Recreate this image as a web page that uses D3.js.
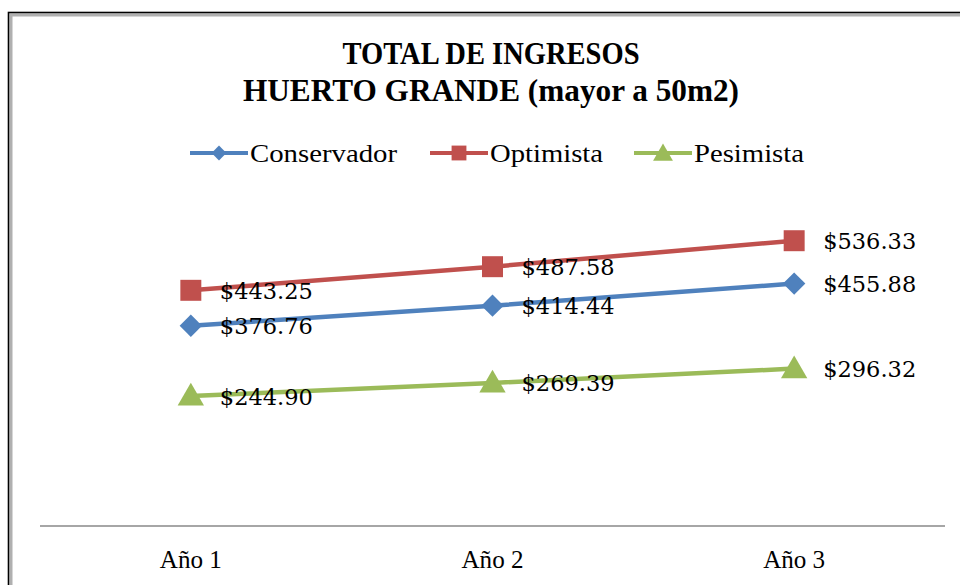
<!DOCTYPE html>
<html>
<head>
<meta charset="utf-8">
<script src="https://cdn.jsdelivr.net/npm/d3@7/dist/d3.min.js"></script>
<style>
  html, body { margin: 0; padding: 0; background: #fff; }
  svg { display: block; }
</style>
</head>
<body>
<svg id="chart" width="960" height="585"></svg>
<script>
// Chart data
const categories = ["Año 1", "Año 2", "Año 3"];
const seriesNames = ["Conservador", "Optimista", "Pesimista"];
const conservador = [376.76, 414.44, 455.88];
const optimista = [443.25, 487.58, 536.33];
const pesimista = [244.90, 269.39, 296.32];
const titleLines = ["TOTAL DE INGRESOS", "HUERTO GRANDE (mayor a 50m2)"];

const colors = { Conservador: "#4F81BD", Optimista: "#C0504D", Pesimista: "#9BBB59" };
// Diamond = square turned 45 degrees
const markerType = { Conservador: d3.symbolSquare, Optimista: d3.symbolSquare, Pesimista: d3.symbolTriangle };
const markerRot = { Conservador: 45, Optimista: 0, Pesimista: 0 };
const markerSize = { Conservador: 250, Optimista: 440, Pesimista: 300 };
const legendSize = { Conservador: 110, Optimista: 220, Pesimista: 170 };
const markerDy = { Conservador: 0, Optimista: 0, Pesimista: 2 };

const series = [
  { name: "Conservador", values: conservador },
  { name: "Optimista", values: optimista },
  { name: "Pesimista", values: pesimista }
];

const svg = d3.select("#chart");
const fmt = v => "$" + d3.format(",.2f")(v);

// Outer frame (runs past the right and bottom edges)
svg.append("rect").attr("x", 11).attr("y", 15).attr("width", 1000).attr("height", 700)
  .attr("fill", "none").attr("stroke", "#b0b0b0").attr("stroke-width", 3);
svg.append("rect").attr("x", 8.5).attr("y", 12.5).attr("width", 1000).attr("height", 700)
  .attr("fill", "none").attr("stroke", "#000").attr("stroke-width", 1.6);

// Scales
const x = d3.scaleBand().domain(categories).range([40, 945]);
const y = d3.scaleLinear().domain([0, 700]).range([526.5, 153.5]);
const cx = c => x(c) + x.bandwidth() / 2;

// Title
const titleG = svg.append("g").attr("font-family", "'Liberation Serif', 'DejaVu Serif', serif")
  .attr("font-weight", "bold").attr("font-size", 32).attr("fill", "#000");
const titleWidths = [297, 496];
titleLines.forEach((t, i) => {
  titleG.append("text").attr("x", 491).attr("y", 64 + i * 37)
    .attr("text-anchor", "middle")
    .attr("textLength", titleWidths[i]).attr("lengthAdjust", "spacingAndGlyphs")
    .text(t);
});

// Legend
const legendItems = [
  { name: "Conservador", x0: 190, textW: 147 },
  { name: "Optimista", x0: 430, textW: 113 },
  { name: "Pesimista", x0: 634, textW: 110 }
];
const legend = svg.append("g").attr("font-family", "'Liberation Serif', 'DejaVu Serif', serif")
  .attr("font-size", 26);
legendItems.forEach(it => {
  const g = legend.append("g");
  g.append("line").attr("x1", it.x0).attr("x2", it.x0 + 58).attr("y1", 153).attr("y2", 153)
    .attr("stroke", colors[it.name]).attr("stroke-width", 4);
  g.append("path")
    .attr("d", d3.symbol().type(markerType[it.name]).size(legendSize[it.name])())
    .attr("transform", `translate(${it.x0 + 29},${153 + markerDy[it.name]}) rotate(${markerRot[it.name]})`)
    .attr("fill", colors[it.name]);
  g.append("text").attr("x", it.x0 + 60).attr("y", 162)
    .attr("textLength", it.textW).attr("lengthAdjust", "spacingAndGlyphs")
    .text(it.name);
});

// Category axis line and labels
svg.append("line").attr("x1", 40).attr("x2", 945).attr("y1", 526).attr("y2", 526)
  .attr("stroke", "#a6a6a6").attr("stroke-width", 2);
const axisG = svg.append("g").attr("font-family", "'Liberation Serif', 'DejaVu Serif', serif")
  .attr("font-size", 26);
categories.forEach(c => {
  axisG.append("text").attr("x", cx(c)).attr("y", 568).attr("text-anchor", "middle")
    .attr("textLength", 62).attr("lengthAdjust", "spacingAndGlyphs")
    .text(c);
});

// Series lines, markers and value labels
const line = d3.line().x((d, i) => cx(categories[i])).y(d => y(d));
series.forEach(s => {
  const g = svg.append("g");
  g.append("path").datum(s.values).attr("d", line)
    .attr("fill", "none").attr("stroke", colors[s.name]).attr("stroke-width", 4.5)
    .attr("stroke-linejoin", "round");
  g.selectAll("path.m").data(s.values).join("path").attr("class", "m")
    .attr("d", d3.symbol().type(markerType[s.name]).size(markerSize[s.name])())
    .attr("transform", (d, i) =>
      `translate(${cx(categories[i])},${y(d) + markerDy[s.name]}) rotate(${markerRot[s.name]})`)
    .attr("fill", colors[s.name]);
  g.selectAll("text").data(s.values).join("text")
    .attr("x", (d, i) => cx(categories[i]) + 29)
    .attr("y", d => y(d) + 8.5)
    .attr("font-family", "'DejaVu Serif', 'Liberation Serif', serif")
    .attr("font-size", 22.5)
    .attr("fill", "#000")
    .text(d => fmt(d));
});
</script>
</body>
</html>
